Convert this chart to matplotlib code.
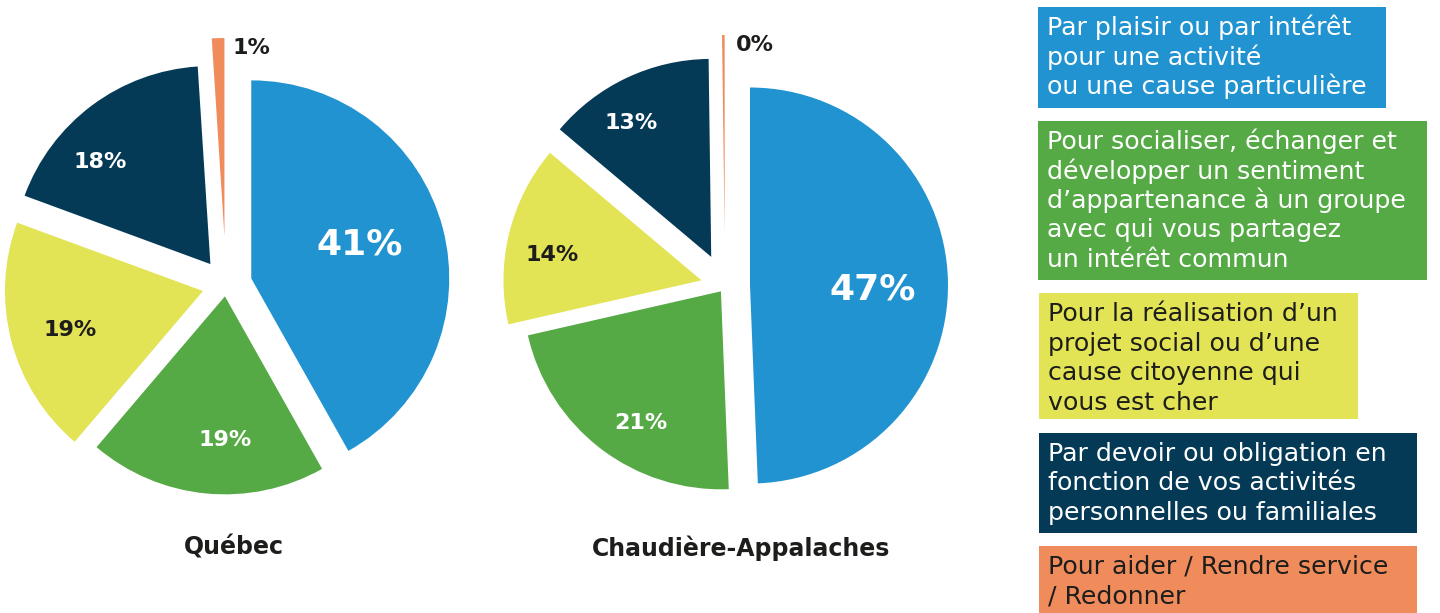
import matplotlib
matplotlib.use("Agg")
import matplotlib.pyplot as plt
from matplotlib.patches import Rectangle
import numpy as np

plt.rcParams["font.family"] = ["DejaVu Sans"]

# ---------------- data ----------------
categories = [
    "Par plaisir ou par intérêt\npour une activité\nou une cause particulière",
    "Pour socialiser, échanger et\ndévelopper un sentiment\nd’appartenance à un groupe\navec qui vous partagez\nun intérêt commun",
    "Pour la réalisation d’un\nprojet social ou d’une\ncause citoyenne qui\nvous est cher",
    "Par devoir ou obligation en\nfonction de vos activités\npersonnelles ou familiales",
    "Pour aider / Rendre service\n/ Redonner",
]
regions = ["Québec", "Chaudière-Appalaches"]
quebec_values = [41, 19, 19, 18, 1]
chaudiere_values = [47, 21, 14, 13, 0.2]
quebec_labels = ["41%", "19%", "19%", "18%", "1%"]
chaudiere_labels = ["47%", "21%", "14%", "13%", "0%"]

colors = ["#2293D1", "#56AA46", "#E2E355", "#053A57", "#F08B5C"]
label_colors = ["white", "white", "#1d1d1b", "white", "#1d1d1b"]
legend_text_colors = ["white", "white", "#1d1d1b", "white", "#1d1d1b"]

# ---------------- layout ----------------
W, H = 1440, 613
fig = plt.figure(figsize=(W / 100, H / 100), dpi=100)
ax = fig.add_axes([0, 0, 1, 1])


def sy(y):
    return H - y


R = 198
pies = [
    dict(values=quebec_values, labels=quebec_labels, center=(226, 285),
         explode=[26.1, 11.4, 23.8, 26.1, 49.0],
         lf=[0.574, 0.726, 0.70, 0.76], lt=[0.516, 0.579, 0.524, 0.66],
         out_off=(14, -10), title=(233.5, 548)),
    dict(values=chaudiere_values, labels=chaudiere_labels, center=(725, 286),
         explode=[25.0, 6.7, 24.2, 32.2, 53.0],
         lf=[0.622, 0.78, 0.763, 0.788], lt=[0.483, 0.579, 0.574, 0.615],
         out_off=(13, -10), title=(741, 548)),
]

for p, region in zip(pies, regions):
    cx, cy = p["center"]
    wedges, _ = ax.pie(p["values"], colors=colors, startangle=90, counterclock=False,
                       radius=R, center=(cx, sy(cy)), explode=p["explode"],
                       normalize=True, wedgeprops=dict(linewidth=0))
    for i, w in enumerate(wedges):
        wx, wy = w.center
        if i < 4:
            ang = np.deg2rad(w.theta1 + p["lt"][i] * (w.theta2 - w.theta1))
            f = p["lf"][i]
            x = wx + f * w.r * np.cos(ang)
            y = wy + f * w.r * np.sin(ang)
            ax.text(x, y, p["labels"][i], ha="center", va="center",
                    color=label_colors[i], fontweight="bold",
                    fontsize=26 if i == 0 else 16)
        else:
            mid = np.deg2rad((w.theta1 + w.theta2) / 2)
            tx = wx + w.r * np.cos(mid)
            ty = wy + w.r * np.sin(mid)
            ax.annotate(p["labels"][i], xy=(tx, ty), xytext=p["out_off"],
                        textcoords="offset pixels", ha="left", va="center",
                        color="#1d1d1b", fontweight="bold", fontsize=16)
    tx, ty = p["title"]
    ax.text(tx, sy(ty), region, ha="center", va="center", fontsize=17,
            fontweight="bold", color="#1d1d1b")

# ---------------- legend boxes ----------------
boxes = [  # left, top, right, bottom (pixels)
    (1038, 7, 1386, 108),
    (1038, 121, 1427, 280),
    (1039, 293, 1358, 419),
    (1039, 433, 1417, 533),
    (1039, 546, 1417, 620),
]
for cat, col, tcol, (l, t, r, b) in zip(categories, colors, legend_text_colors, boxes):
    ax.add_patch(Rectangle((l, sy(b)), r - l, b - t, facecolor=col, edgecolor="none"))
    for k, line in enumerate(cat.split("\n")):
        ax.text(l + 9, sy(t + 28 + 29.5 * k), line, ha="left", va="baseline",
                fontsize=18.2, color=tcol)

ax.set_xlim(0, W)
ax.set_ylim(0, H)
ax.set_aspect("equal")
ax.axis("off")

fig.savefig("out.png", dpi=100, facecolor="white")
